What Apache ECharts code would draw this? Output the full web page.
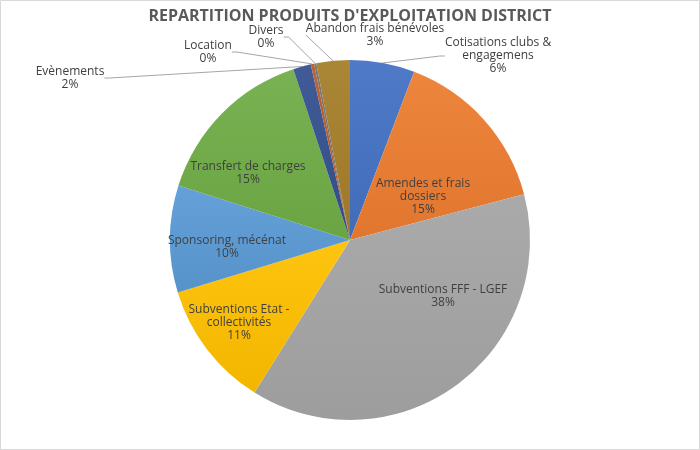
<!DOCTYPE html>
<html><head><meta charset="utf-8">
<script src="https://cdn.jsdelivr.net/npm/echarts@6/dist/echarts.min.js"></script>
<style>html,body{margin:0;padding:0;background:#fff}#c{width:700px;height:450px}</style>
</head><body><div id="c"></div>
<script>
const title = "REPARTITION PRODUITS D'EXPLOITATION DISTRICT";
const categories = ["Cotisations clubs &\nengagemens", "Amendes et frais\ndossiers", "Subventions FFF - LGEF", "Subventions Etat -\ncollectivités", "Sponsoring, mécénat", "Transfert de charges", "Evènements", "Location", "Divers", "Abandon frais bénévoles"];
const values = [5.8, 15.1, 38.0, 11.4, 9.6, 15.0, 1.6, 0.3, 0.2, 3.0];

const colors = ["#4472C4", "#ED7D31", "#A5A5A5", "#FFC000", "#5B9BD5", "#70AD47", "#34518F", "#B85A26", "#707070", "#A57E2A"];
const outside = [true, false, false, false, false, false, true, true, true, true];
const labelPos = [[498, 56], [423, 197], [443, 296], [239, 323], [227, 247], [248, 173], [70, 78], [208, 52], [266, 37], [375, 35]];

function shade(hex, f) {
  const n = parseInt(hex.slice(1), 16);
  let r = n >> 16, g = (n >> 8) & 255, b = n & 255;
  const m = c => Math.max(0, Math.min(255, Math.round(f >= 0 ? c + (255 - c) * f : c * (1 + f))));
  return 'rgb(' + m(r) + ',' + m(g) + ',' + m(b) + ')';
}

const data = categories.map((name, i) => ({
  name: name,
  value: values[i],
  itemStyle: {
    color: new echarts.graphic.LinearGradient(0, 0, 0, 1, [
      { offset: 0, color: shade(colors[i], 0.06) },
      { offset: 1, color: shade(colors[i], -0.05) }
    ])
  },
  label: { position: outside[i] ? 'outside' : 'inside' },
  labelLine: { show: outside[i] }
}));

const chart = echarts.init(document.getElementById('c'));
chart.setOption({
  animation: false,
  backgroundColor: '#fff',
  title: {
    text: title, left: 'center', top: 3,
    textStyle: { fontFamily: 'Open Sans', fontSize: 16, fontWeight: 'bold', color: '#595959' }
  },
  graphic: [{
    type: 'rect', shape: { x: 0.5, y: 0.5, width: 699, height: 449 },
    style: { fill: 'none', stroke: '#d9d9d9', lineWidth: 1 }, silent: true
  }],
  series: [{
    type: 'pie',
    center: [350, 240],
    radius: [0, 180],
    startAngle: 90,
    clockwise: true,
    percentPrecision: 2,
    data: data,
    itemStyle: { borderWidth: 0 },
    label: {
      formatter: p => p.name + '\n' + Math.round(p.percent) + '%',
      fontFamily: 'Open Sans', fontSize: 12, color: '#404040',
      lineHeight: 13, align: 'center'
    },
    labelLine: { lineStyle: { color: '#a6a6a6', width: 1 }, length: 10, length2: 5, smooth: false },
    labelLayout: function (p) {
      const pos = labelPos[p.dataIndex];
      return { x: pos[0], y: pos[1], align: 'center', verticalAlign: 'middle', hideOverlap: false };
    }
  }]
});
</script></body></html>
